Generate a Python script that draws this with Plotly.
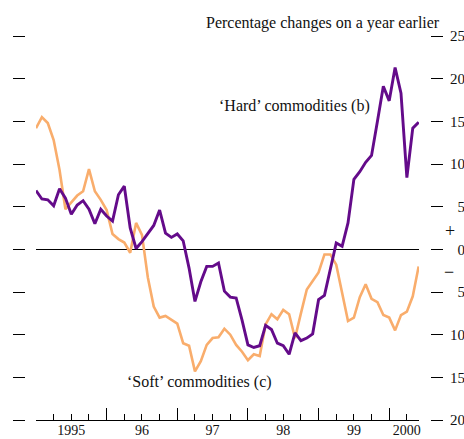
import plotly.graph_objects as go

# Monthly data, Jan 1995 .. Jun 2000 (percentage changes on a year earlier)
start_year = 1995
hard = [6.9, 5.9, 5.8, 5.1, 7.1, 6.0, 4.1, 5.2, 5.7, 4.7, 3.0, 4.7,
        3.9, 3.3, 6.4, 7.4, 2.5, 0.1, 0.9, 1.8, 2.8, 4.6, 1.9, 1.4,
        1.8, 1.0, -2.2, -6.1, -3.8, -2.0, -2.0, -1.6, -4.9, -5.6, -5.7, -8.3,
        -11.2, -11.5, -11.3, -8.9, -9.4, -11.0, -11.3, -12.3, -9.8, -10.7, -10.4, -9.9,
        -5.9, -5.4, -2.3, 0.75, 0.35, 3.1, 8.2, 9.1, 10.2, 11.0, 15.0, 19.1,
        17.4, 21.3, 18.3, 8.4, 14.2, 14.9]
soft = [14.2, 15.5, 14.8, 12.8, 9.3, 4.7, 5.5, 6.3, 6.8, 9.4, 6.8, 5.8,
        4.6, 1.8, 1.2, 0.8, -0.4, 3.1, 1.7, -3.3, -6.7, -8.0, -7.8, -8.2,
        -8.7, -11.0, -11.3, -14.3, -13.1, -11.2, -10.4, -10.3, -9.3, -10.0, -11.2, -12.0,
        -13.0, -12.3, -12.5, -8.8, -7.6, -8.2, -7.1, -7.6, -10.4, -7.5, -4.7, -3.7,
        -2.7, -0.6, -0.6, -1.8, -4.9, -8.4, -8.0, -5.6, -4.1, -5.8, -6.2, -7.7,
        -8.0, -9.5, -7.7, -7.3, -5.5, -2.0]
x_vals = [start_year + i / 12 for i in range(len(hard))]

year_ticks = [1995, 1996, 1997, 1998, 1999, 2000]
year_label_pos = [1995.5, 1996.5, 1997.5, 1998.5, 1999.5, 2000.25]
year_labels = ["1995", "96", "97", "98", "99", "2000"]
y_ticks = [25, 20, 15, 10, 5, 0, -5, -10, -15, -20]
y_ticktext = ["25", "20", "15", "10", "\u00a0\u00a05", "\u00a0\u00a00",
              "\u00a0\u00a05", "10", "15", "20"]

HARD_COLOR = "#640b8a"
SOFT_COLOR = "#f9ad6c"
FONT = "Liberation Serif, Times New Roman, serif"
x_range = [1995, 1995 + 65 / 12 + 0.005]
y_range = [-20, 25]

fig = go.Figure()
fig.add_trace(go.Scatter(x=x_vals, y=soft, mode="lines",
                         line=dict(color=SOFT_COLOR, width=2.6),
                         xaxis="x", yaxis="y", showlegend=False, hoverinfo="skip"))
fig.add_trace(go.Scatter(x=x_vals, y=hard, mode="lines",
                         line=dict(color=HARD_COLOR, width=2.9),
                         xaxis="x2", yaxis="y2", showlegend=False, hoverinfo="skip"))

xdom = [11 / 405, 394 / 405]
fig.update_layout(
    width=464, height=439,
    margin=dict(l=25, r=34, t=36, b=19),
    paper_bgcolor="white", plot_bgcolor="white",
    font=dict(family=FONT, size=15, color="#111"),
    xaxis=dict(domain=xdom, range=x_range, showgrid=False, zeroline=False,
               showline=True, linecolor="black", linewidth=1.2,
               tickmode="array", tickvals=year_ticks, ticks="inside",
               ticklen=12, tickwidth=1.2, tickcolor="black", showticklabels=False,
               minor=dict(dtick=0.25, tick0=1995, ticks="inside", ticklen=6,
                          tickwidth=1.2, tickcolor="black", showgrid=False),
               anchor="y", automargin=False),
    xaxis2=dict(domain=xdom, range=x_range, overlaying="x", anchor="y2", side="bottom",
                showgrid=False, zeroline=False, showline=False,
                tickmode="array", tickvals=year_label_pos, ticktext=year_labels,
                ticks="", ticklabelstandoff=0,
                tickfont=dict(size=14, family=FONT, color="#111"),
                automargin=False),
    yaxis=dict(range=y_range, anchor="free", position=0, showgrid=False,
               zeroline=True, zerolinecolor="black", zerolinewidth=1.2,
               showline=False, tickmode="array", tickvals=y_ticks,
               ticks="outside", ticklen=12, tickwidth=1.2, tickcolor="black",
               showticklabels=False, automargin=False),
    yaxis2=dict(range=y_range, overlaying="y", anchor="free", position=1, side="right",
                showgrid=False, zeroline=False, showline=False,
                tickmode="array", tickvals=y_ticks, ticktext=y_ticktext,
                ticks="outside", ticklen=12, tickwidth=1.2, tickcolor="black",
                ticklabelstandoff=4,
                tickfont=dict(size=15, family=FONT, color="#111"), automargin=False),
)

ann_font = dict(family=FONT, size=16, color="#111")
fig.add_annotation(text="Percentage changes on a year earlier", xref="paper", yref="paper",
                   x=(442 - 25) / 405, y=(420 - 23) / 384, xanchor="right", yanchor="middle",
                   showarrow=False, font=ann_font)
fig.add_annotation(text="\u2018Hard\u2019 commodities (b)", xref="paper", yref="paper",
                   x=(294 - 25) / 405, y=(420 - 106) / 384, xanchor="center", yanchor="middle",
                   showarrow=False, font=ann_font)
fig.add_annotation(text="\u2018Soft\u2019 commodities (c)", xref="paper", yref="paper",
                   x=(199.5 - 25) / 405, y=(420 - 381.7) / 384, xanchor="center", yanchor="middle",
                   showarrow=False, font=ann_font)
fig.add_annotation(text="+", xref="paper", yref="y", x=(450 - 25) / 405, y=2.2,
                   xanchor="center", yanchor="middle", showarrow=False,
                   font=dict(family=FONT, size=18, color="#111"))
fig.add_annotation(text="\u2212", xref="paper", yref="y", x=(449 - 25) / 405, y=-2.6,
                   xanchor="center", yanchor="middle", showarrow=False,
                   font=dict(family=FONT, size=18, color="#111"))

fig.write_html("out.html", config={"displayModeBar": False},
               post_script="document.body.style.margin='0';document.body.style.overflow='hidden';")
